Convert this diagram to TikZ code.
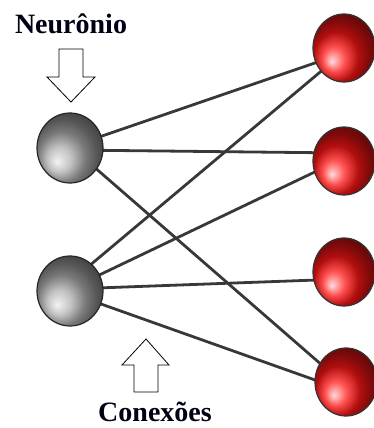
\documentclass[tikz,border=0pt]{standalone}
\usepackage{fontspec}
\setmainfont{Liberation Serif}
\usetikzlibrary{shapes.geometric,backgrounds}

\tikzset{
  % ball shading turned so that the highlight sits at the lower left
  greysphere/.style={ellipse, inner sep=0pt, minimum width=66pt, minimum height=70pt,
    ball color=black!32, shading angle=90, draw=black!85, line width=1.2pt},
  redsphere/.style={ellipse, inner sep=0pt, minimum width=62pt, minimum height=68pt,
    ball color=red!92!white, shading angle=90, draw=black!80, line width=1.2pt},
  link/.style={draw=black!78, line width=2.8pt},
  blockarrow/.style={draw=black, line width=0.8pt, fill=white, line join=miter},
  caption/.style={font=\fontsize{28}{30}\selectfont\bfseries, text=black!92!blue, inner sep=0pt}
}

\begin{document}
\begin{tikzpicture}[x=1pt, y=-1pt]
  \useasboundingbox (0,0) rectangle (374,428);
  \clip (0,0) rectangle (374,428);

  % input layer
  \node[greysphere] (g1) at (70,148) {};
  \node[greysphere] (g2) at (70,291) {};

  % output layer
  \node[redsphere] (r1) at (344,48) {};
  \node[redsphere] (r2) at (344,161) {};
  \node[redsphere] (r3) at (344,272) {};
  \node[redsphere] (r4) at (346,382) {};

  % connections, behind the spheres
  \begin{pgfonlayer}{background}
    \draw[link] ([yshift=1pt]g1.center)  -- ([yshift=-5pt]r1.center);
    \draw[link] ([yshift=-2pt]g1.center) -- ([yshift=8pt]r2.center);
    \draw[link] ([yshift=2pt]g1.center)  -- ([yshift=-4pt]r4.center);
    \draw[link] ([yshift=9pt]g2.center)  -- ([yshift=-4pt]r1.center);
    \draw[link] ([yshift=2pt]g2.center)  -- ([yshift=3pt]r2.center);
    \draw[link] ([yshift=2pt]g2.center)  -- ([yshift=-7pt]r3.center);
    \draw[link] ([yshift=-2pt]g2.center) -- ([yshift=-9pt]r4.center);
  \end{pgfonlayer}

  % labels
  \node[caption] (neu) at (71,24) {Neurônio};
  \node[caption] (con) at (155,412) {Conexões};

  % hollow arrows pointing at a neuron and at the connections
  \draw[blockarrow] (59,49) -- (83,49) -- (83,77) -- (95,77) -- (71,102)
    -- (47,77) -- (59,77) -- cycle;
  \draw[blockarrow] (134,392) -- (158,392) -- (158,365) -- (169,365) -- (146,339)
    -- (122,365) -- (134,365) -- cycle;
\end{tikzpicture}
\end{document}
